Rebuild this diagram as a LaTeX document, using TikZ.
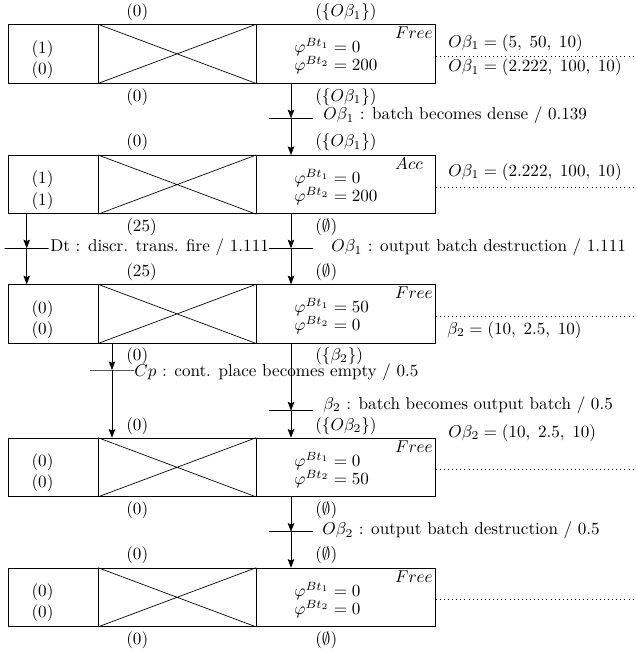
\documentclass[tikz,border=0pt]{standalone}
\usetikzlibrary{arrows.meta}
\newcommand\drawstate[7]{%
  \node[lcell] (L#1) at (8,#2) {};
  \node[mcell] (M#1) at (98,#2) {};
  \node[rcell] (R#1) at (255.5,#2) {};
  \draw (M#1.north west) -- (M#1.south east) (M#1.south west) -- (M#1.north east);
  \node[val, anchor=base] (La#1) at (42.5,#2+29) {#3};
  \node[val, anchor=base] (Lb#1) at (42.5,#2+50) {#4};
  \node[val, anchor=base west] (Pa#1) at (294,#2+28.5) {$\varphi^{Bt_1} = #5$};
  \node[val, anchor=base west] (Pb#1) at (294,#2+46.5) {$\varphi^{Bt_2} = #6$};
  \node[modetxt] (Mo#1) at (394,#2+1.5) {$#7$};
  \coordinate (D#1) at (635,#2+32);
  \draw[dotted] (R#1.east |- D#1) -- (D#1);
}
\begin{document}
\begin{tikzpicture}[x=0.585pt,y=-0.585pt,
  lcell/.style={draw, inner sep=0pt, anchor=north west, minimum height=34.22pt, minimum width=52.65pt},
  mcell/.style={draw, inner sep=0pt, anchor=north west, minimum height=34.22pt, minimum width=92.14pt},
  rcell/.style={draw, inner sep=0pt, anchor=north west, minimum height=34.22pt, minimum width=105.01pt},
  val/.style={inner sep=0pt},
  lab/.style={inner sep=0pt, anchor=west},
  modetxt/.style={inner sep=0.5pt, anchor=north west},
  tbar/.style={draw, inner sep=0pt, minimum width=25.74pt, minimum height=0pt},
  arr/.style={-{Stealth[length=5pt,width=3.8pt,inset=0.8pt]}}
]
\useasboundingbox (0,0) rectangle (635,653);

% states
\drawstate{1}{24.3}{(1)}{(0)}{0}{200}{Free}
\drawstate{2}{155}{(1)}{(1)}{0}{200}{Acc}
\drawstate{3}{284.3}{(0)}{(0)}{50}{0}{Free}
\drawstate{4}{437.7}{(0)}{(0)}{0}{50}{Free}
\drawstate{5}{567.7}{(0)}{(0)}{0}{0}{Free}

% labels above / below boxes
\node[lab] (a1l) at (126,12.2) {(0)};
\node[lab] (a1r) at (315,12.2) {$(\{O\beta_1\})$};
\node[lab] (b1l) at (126,97) {(0)};
\node[lab] (b1r) at (315,97) {$(\{O\beta_1\})$};
\node[lab] (a2l) at (126,142.5) {(0)};
\node[lab] (a2r) at (315,142.5) {$(\{O\beta_1\})$};
\node[lab] (b2l) at (126,226.8) {(25)};
\node[lab] (b2r) at (315,226.8) {$(\emptyset)$};
\node[lab] (a3l) at (126,272) {(25)};
\node[lab] (a3r) at (315,272) {$(\emptyset)$};
\node[lab] (b3l) at (126,356) {(0)};
\node[lab] (b3r) at (315,356) {$(\{\beta_2\})$};
\node[lab] (a4l) at (126,426) {(0)};
\node[lab] (a4r) at (315,426) {$(\{O\beta_2\})$};
\node[lab] (b4l) at (126,510.5) {(0)};
\node[lab] (b4r) at (315,510.5) {$(\emptyset)$};
\node[lab] (a5l) at (126,555.4) {(0)};
\node[lab] (a5r) at (315,555.4) {$(\emptyset)$};
\node[lab] (b5l) at (126,640.5) {(0)};
\node[lab] (b5r) at (315,640.5) {$(\emptyset)$};

% batch values
\node[lab] (v1a) at (448,43) {$O\beta_1 = (5,\; 50,\; 10)$};
\node[lab] (v1b) at (448,67.5) {$O\beta_1 = (2.222,\; 100,\; 10)$};
\node[lab] (v2) at (448,172) {$O\beta_1 = (2.222,\; 100,\; 10)$};
\node[lab] (v3) at (447,330) {$\beta_2 = (10,\; 2.5,\; 10)$};
\node[lab] (v4) at (448,433) {$O\beta_2 = (10,\; 2.5,\; 10)$};

% transitions
\node[tbar] (T1) at (291,118.3) {};
\node[tbar] (T2L) at (26.7,248.3) {};
\node[tbar] (T2R) at (291,248.3) {};
\node[tbar] (T3) at (112,370) {};
\node[tbar] (T4) at (291,410.5) {};
\node[tbar] (T5) at (291,531.7) {};

\node[lab] (t1) at (323,115.5) {$O\beta_1$ : batch becomes dense / 0.139};
\node[lab] (t2l) at (50,247.5) {Dt : discr. trans. fire / 1.111};
\node[lab] (t2r) at (331,247.5) {$O\beta_1$ : output batch destruction / 1.111};
\node[lab] (t3) at (134,372) {$Cp$ : cont. place becomes empty / 0.5};
\node[lab] (t4) at (323,405) {$\beta_2$ : batch becomes output batch / 0.5};
\node[lab] (t5) at (322,530.5) {$O\beta_2$ : output batch destruction / 0.5};

% arcs
\draw[arr] (R1.south -| T1) -- (T1.center);
\draw[arr] (T1.center) -- (R2.north -| T1);
\draw[arr] (L2.south -| T2L) -- (T2L.center);
\draw[arr] (T2L.center) -- (L3.north -| T2L);
\draw[arr] (R2.south -| T2R) -- (T2R.center);
\draw[arr] (T2R.center) -- (R3.north -| T2R);
\draw[arr] (M3.south -| T3) -- (T3.center);
\draw[arr] (T3.center) -- (M4.north -| T3);
\draw[arr] (R3.south -| T4) -- (T4.center);
\draw[arr] (T4.center) -- (R4.north -| T4);
\draw[arr] (R4.south -| T5) -- (T5.center);
\draw[arr] (T5.center) -- (R5.north -| T5);
\end{tikzpicture}
\end{document}
